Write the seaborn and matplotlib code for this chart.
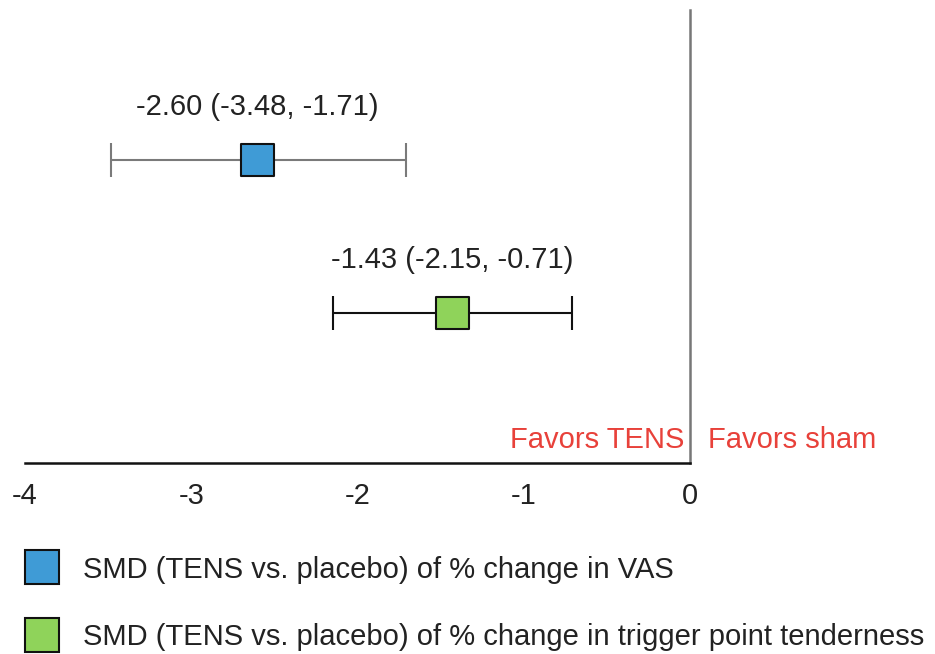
import matplotlib
matplotlib.use("Agg")
import matplotlib.pyplot as plt
import seaborn as sns
import pandas as pd
from matplotlib.lines import Line2D

sns.set_theme(style="white")
plt.rcParams['font.family'] = ['Liberation Sans', 'DejaVu Sans']

labels = ["SMD (TENS vs. placebo) of % change in VAS",
          "SMD (TENS vs. placebo) of % change in trigger point tenderness"]
smd = [-2.60, -1.43]
lower = [-3.48, -2.15]
upper = [-1.71, -0.71]
marker_colors = ["#3f9bd6", "#8fd35a"]
bar_colors = ["#7a7a7a", "#111111"]
xticks = [-4, -3, -2, -1, 0]

df = pd.DataFrame({"label": labels, "smd": smd, "lower": lower, "upper": upper,
                   "pos": list(range(len(labels)))})

FS = 21
fig = plt.figure(figsize=(9.35, 6.54), dpi=100)
W, H = 935, 654
left, right, top, bottom = 25, 690, 10, 463
ax = fig.add_axes([left / W, 1 - bottom / H, (right - left) / W, (bottom - top) / H])

for i, r in df.iterrows():
    ax.errorbar(r["smd"], r["pos"],
                xerr=[[r["smd"] - r["lower"]], [r["upper"] - r["smd"]]],
                fmt="none", ecolor=bar_colors[i], elinewidth=1.5, capsize=12,
                capthick=1.5, zorder=2)

sns.scatterplot(data=df, x="smd", y="pos", hue="label", palette=marker_colors,
                marker="s", s=23.5 ** 2, edgecolor="#111111", linewidth=1.5,
                legend=False, ax=ax, zorder=3)

for i, r in df.iterrows():
    ax.annotate(f"{r['smd']:.2f} ({r['lower']:.2f}, {r['upper']:.2f})",
                xy=(r["smd"], r["pos"]), xytext=(0, 38.5), textcoords="offset points",
                ha="center", va="center", fontsize=FS, color="#222222")

ax.set_xlim(-4, 0)
ax.set_ylim(1.98, -0.98)
ax.set_xticks(xticks)
ax.set_xticklabels([str(t) for t in xticks], fontsize=FS, color="#222222")
ax.tick_params(axis="x", length=0, pad=14)
ax.set_yticks([])
ax.set_xlabel("")
ax.set_ylabel("")
for s in ["left", "top"]:
    ax.spines[s].set_visible(False)
ax.spines["bottom"].set_color("#111111")
ax.spines["bottom"].set_linewidth(1.8)
ax.spines["right"].set_color("#777777")
ax.spines["right"].set_linewidth(1.8)

ax.text(-0.035, 1.83, "Favors TENS", ha="right", va="center", fontsize=FS, color="#e8413a")
ax.text(0.11, 1.83, "Favors sham", ha="left", va="center", fontsize=FS, color="#e8413a",
        clip_on=False)

handles = [Line2D([], [], marker="s", linestyle="none", markersize=25,
                  markerfacecolor=c, markeredgecolor="#111111", markeredgewidth=1.5)
           for c in marker_colors]
fig.legend(handles, labels, loc="upper left", bbox_to_anchor=(8 / W, 1 - 541 / H),
           frameon=False, fontsize=FS, handletextpad=0.78, labelspacing=1.35,
           handlelength=1.3, borderpad=0, labelcolor="#222222")

fig.savefig("out.png", dpi=100)
